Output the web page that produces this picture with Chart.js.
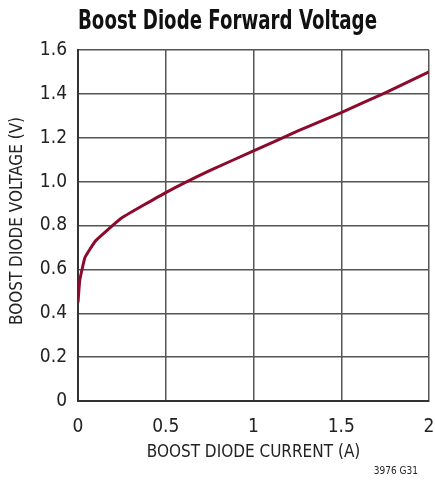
<!DOCTYPE html>
<html>
<head>
<meta charset="utf-8">
<script src="https://cdn.jsdelivr.net/npm/chart.js@4/dist/chart.umd.min.js"></script>
<style>
  html, body { margin: 0; padding: 0; background: #fff; }
  #wrap { width: 435px; height: 483px; position: relative; }
</style>
</head>
<body>
<div id="wrap"><canvas id="chart" width="435" height="483"></canvas></div>
<script>
'use strict';

// ─── Data ───────────────────────────────────────────────────────────────────
const currentA = [0, 0.01, 0.04, 0.1, 0.25, 0.5, 0.75, 1, 1.25, 1.5, 1.75, 2];
const voltageV = [0.45, 0.55, 0.655, 0.73, 0.835, 0.95, 1.05, 1.14, 1.23, 1.315, 1.405, 1.5];

const titleText  = 'Boost Diode Forward Voltage';
const xTitleText = 'BOOST DIODE CURRENT (A)';
const yTitleText = 'BOOST DIODE VOLTAGE (V)';
const noteText   = '3976 G31';

const FONT = "'DejaVu Sans Condensed', 'Liberation Sans', sans-serif";
const GRID = '#555555';

// Draws title, axis titles and the figure number around the plot
const labelsPlugin = {
  id: 'labels',
  afterDraw(chart) {
    const { ctx, chartArea } = chart;
    ctx.save();

    // Heavy condensed title: squeeze to the reference width
    ctx.fillStyle = '#111';
    ctx.font = `bold 26px ${FONT}`;
    ctx.textAlign = 'left';
    ctx.textBaseline = 'alphabetic';
    const w = ctx.measureText(titleText).width;
    ctx.save();
    ctx.translate(78, 28.5);
    ctx.scale(299 / w, 1);
    ctx.fillText(titleText, 0, 0);
    ctx.restore();

    ctx.fillStyle = '#222';
    ctx.font = `17px ${FONT}`;
    ctx.textAlign = 'center';
    ctx.fillText(xTitleText, (chartArea.left + chartArea.right) / 2, 457);

    ctx.save();
    ctx.translate(18, 221);
    ctx.rotate(-Math.PI / 2);
    ctx.textBaseline = 'middle';
    ctx.fillText(yTitleText, 0, 0);
    ctx.restore();

    ctx.font = `10px ${FONT}`;
    ctx.textAlign = 'right';
    ctx.fillText(noteText, 418, 474);
    ctx.restore();
  },
};

new Chart(document.getElementById('chart'), {
  type: 'line',
  data: {
    datasets: [{
      data: currentA.map((x, i) => ({ x, y: voltageV[i] })),
      borderColor: '#8c0a2c',
      borderWidth: 3,
      pointRadius: 0,
      tension: 0.1,
      fill: false,
    }],
  },
  options: {
    animation: false,
    responsive: false,
    layout: { padding: { top: 50, right: 6, left: 0, bottom: 0 } },
    plugins: {
      legend: { display: false },
      tooltip: { enabled: false },
    },
    scales: {
      x: {
        type: 'linear',
        min: 0, max: 2,
        afterFit: (s) => { s.height = 82; s.paddingRight = 0; s.paddingLeft = 0; },
        ticks: {
          stepSize: 0.5,
          color: '#222',
          padding: 15,
          maxRotation: 0,
          font: { family: FONT, size: 19 },
          callback: (v) => String(v),
        },
        grid: { color: GRID, lineWidth: 1.5, drawTicks: false },
        border: { color: '#333', width: 2 },
      },
      y: {
        min: 0, max: 1.6,
        afterFit: (s) => { s.width = 78; },
        ticks: {
          stepSize: 0.2,
          color: '#222',
          padding: 11,
          font: { family: FONT, size: 19 },
          callback: (v) => (v === 0 ? '0' : v.toFixed(1)),
        },
        grid: { color: GRID, lineWidth: 1.5, drawTicks: false },
        border: { color: '#333', width: 2 },
      },
    },
  },
  plugins: [labelsPlugin],
});
</script>
</body>
</html>
